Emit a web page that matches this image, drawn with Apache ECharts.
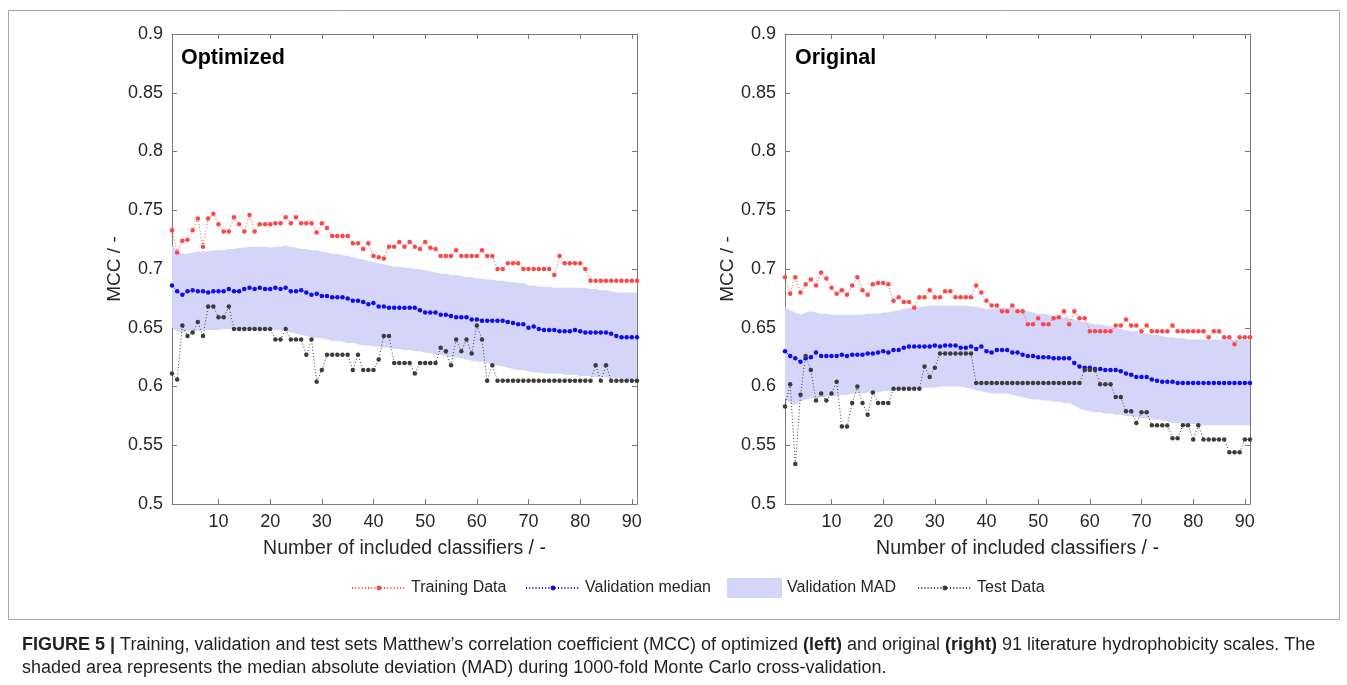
<!DOCTYPE html>
<html>
<head>
<meta charset="utf-8">
<title>MCC vs number of included classifiers</title>
<script src="https://cdn.jsdelivr.net/npm/echarts@6/dist/echarts.min.js"></script>
<style>
  html, body { margin: 0; padding: 0; background: #fff; }
  #chart { width: 1347px; height: 685px; }
</style>
</head>
<body>
<div id="chart"></div>
<script>
// x categories: number of included classifiers
const classifiers = [
  1, 2, 3, 4, 5, 6, 7, 8, 9, 10, 11, 12, 13, 14, 15, 16, 17, 18, 19, 20,
  21, 22, 23, 24, 25, 26, 27, 28, 29, 30, 31, 32, 33, 34, 35, 36, 37, 38, 39, 40,
  41, 42, 43, 44, 45, 46, 47, 48, 49, 50, 51, 52, 53, 54, 55, 56, 57, 58, 59, 60,
  61, 62, 63, 64, 65, 66, 67, 68, 69, 70, 71, 72, 73, 74, 75, 76, 77, 78, 79, 80,
  81, 82, 83, 84, 85, 86, 87, 88, 89, 90, 91
]
const xTickLabels = [10, 20, 30, 40, 50, 60, 70, 80, 90]

// Optimized scales (left panel)
const optTrain = [
  0.733, 0.714, 0.724, 0.725, 0.733, 0.743, 0.719, 0.743, 0.747, 0.738,
  0.732, 0.732, 0.744, 0.738, 0.732, 0.746, 0.732, 0.738, 0.738, 0.738,
  0.739, 0.739, 0.744, 0.739, 0.744, 0.739, 0.739, 0.739, 0.731, 0.739,
  0.735, 0.728, 0.728, 0.728, 0.728, 0.722, 0.722, 0.717, 0.722, 0.711,
  0.710, 0.709, 0.719, 0.719, 0.723, 0.719, 0.723, 0.719, 0.717, 0.723,
  0.718, 0.717, 0.711, 0.711, 0.711, 0.716, 0.711, 0.711, 0.711, 0.711,
  0.716, 0.711, 0.711, 0.700, 0.700, 0.705, 0.705, 0.705, 0.700, 0.700,
  0.700, 0.700, 0.700, 0.700, 0.695, 0.711, 0.705, 0.705, 0.705, 0.705,
  0.700, 0.690, 0.690, 0.690, 0.690, 0.690, 0.690, 0.690, 0.690, 0.690,
  0.690
]
const optMedian = [
  0.686, 0.681, 0.678, 0.681, 0.682, 0.681, 0.681, 0.680, 0.681, 0.681,
  0.681, 0.683, 0.681, 0.681, 0.683, 0.684, 0.683, 0.684, 0.683, 0.683,
  0.684, 0.683, 0.684, 0.681, 0.681, 0.682, 0.680, 0.678, 0.679, 0.677,
  0.677, 0.676, 0.676, 0.676, 0.675, 0.673, 0.673, 0.672, 0.670, 0.671,
  0.668, 0.668, 0.667, 0.667, 0.667, 0.667, 0.667, 0.667, 0.665, 0.663,
  0.663, 0.663, 0.661, 0.661, 0.660, 0.659, 0.659, 0.659, 0.657, 0.657,
  0.656, 0.656, 0.656, 0.656, 0.656, 0.655, 0.654, 0.653, 0.653, 0.650,
  0.651, 0.649, 0.648, 0.648, 0.648, 0.647, 0.647, 0.647, 0.648, 0.647,
  0.646, 0.646, 0.646, 0.646, 0.646, 0.645, 0.643, 0.642, 0.642, 0.642,
  0.642
]
const optMadUpper = [
  0.720, 0.716, 0.713, 0.713, 0.714, 0.715, 0.715, 0.715, 0.716, 0.716,
  0.716, 0.717, 0.717, 0.718, 0.718, 0.719, 0.719, 0.719, 0.719, 0.718,
  0.719, 0.719, 0.720, 0.719, 0.718, 0.717, 0.717, 0.716, 0.716, 0.715,
  0.714, 0.713, 0.713, 0.712, 0.711, 0.710, 0.709, 0.708, 0.707, 0.706,
  0.705, 0.704, 0.703, 0.702, 0.702, 0.701, 0.701, 0.700, 0.700, 0.699,
  0.698, 0.697, 0.696, 0.696, 0.695, 0.695, 0.694, 0.693, 0.693, 0.692,
  0.692, 0.691, 0.691, 0.690, 0.690, 0.689, 0.689, 0.688, 0.688, 0.686,
  0.686, 0.685, 0.685, 0.685, 0.684, 0.684, 0.684, 0.684, 0.684, 0.684,
  0.684, 0.683, 0.683, 0.682, 0.682, 0.681, 0.680, 0.680, 0.680, 0.680,
  0.680
]
const optMadLower = [
  0.650, 0.647, 0.646, 0.647, 0.647, 0.647, 0.648, 0.648, 0.648, 0.648,
  0.649, 0.649, 0.649, 0.649, 0.649, 0.649, 0.648, 0.648, 0.648, 0.648,
  0.648, 0.648, 0.647, 0.646, 0.645, 0.644, 0.643, 0.642, 0.641, 0.641,
  0.640, 0.639, 0.639, 0.638, 0.637, 0.637, 0.636, 0.635, 0.635, 0.634,
  0.634, 0.633, 0.633, 0.632, 0.632, 0.631, 0.631, 0.630, 0.630, 0.629,
  0.628, 0.627, 0.627, 0.626, 0.625, 0.625, 0.624, 0.623, 0.622, 0.621,
  0.621, 0.620, 0.619, 0.618, 0.617, 0.616, 0.615, 0.614, 0.614, 0.613,
  0.612, 0.612, 0.611, 0.611, 0.611, 0.611, 0.610, 0.610, 0.610, 0.609,
  0.609, 0.609, 0.608, 0.608, 0.608, 0.607, 0.607, 0.607, 0.606, 0.606,
  0.606
]
const optTest = [
  0.611, 0.606, 0.652, 0.643, 0.646, 0.655, 0.643, 0.668, 0.668, 0.659,
  0.659, 0.668, 0.649, 0.649, 0.649, 0.649, 0.649, 0.649, 0.649, 0.649,
  0.640, 0.640, 0.649, 0.640, 0.640, 0.640, 0.627, 0.640, 0.604, 0.614,
  0.627, 0.627, 0.627, 0.627, 0.627, 0.614, 0.627, 0.614, 0.614, 0.614,
  0.623, 0.643, 0.643, 0.620, 0.620, 0.620, 0.620, 0.611, 0.620, 0.620,
  0.620, 0.620, 0.633, 0.630, 0.618, 0.640, 0.630, 0.640, 0.628, 0.652,
  0.640, 0.605, 0.618, 0.605, 0.605, 0.605, 0.605, 0.605, 0.605, 0.605,
  0.605, 0.605, 0.605, 0.605, 0.605, 0.605, 0.605, 0.605, 0.605, 0.605,
  0.605, 0.605, 0.618, 0.605, 0.618, 0.605, 0.605, 0.605, 0.605, 0.605,
  0.605
]

// Original scales (right panel)
const origTrain = [
  0.693, 0.679, 0.693, 0.680, 0.687, 0.691, 0.686, 0.697, 0.692, 0.684,
  0.679, 0.682, 0.678, 0.686, 0.693, 0.682, 0.678, 0.687, 0.688, 0.688,
  0.687, 0.673, 0.676, 0.672, 0.672, 0.667, 0.676, 0.676, 0.682, 0.676,
  0.676, 0.681, 0.681, 0.676, 0.676, 0.676, 0.676, 0.686, 0.680, 0.673,
  0.669, 0.669, 0.664, 0.664, 0.669, 0.664, 0.664, 0.653, 0.653, 0.658,
  0.653, 0.653, 0.658, 0.659, 0.664, 0.653, 0.664, 0.658, 0.658, 0.647,
  0.647, 0.647, 0.647, 0.647, 0.652, 0.652, 0.657, 0.652, 0.652, 0.647,
  0.652, 0.647, 0.647, 0.647, 0.647, 0.652, 0.647, 0.647, 0.647, 0.647,
  0.647, 0.647, 0.642, 0.647, 0.647, 0.642, 0.642, 0.636, 0.642, 0.642,
  0.642
]
const origMedian = [
  0.630, 0.626, 0.624, 0.621, 0.624, 0.625, 0.629, 0.626, 0.626, 0.626,
  0.626, 0.627, 0.626, 0.627, 0.627, 0.627, 0.628, 0.628, 0.629, 0.630,
  0.629, 0.631, 0.631, 0.633, 0.634, 0.634, 0.634, 0.634, 0.634, 0.635,
  0.634, 0.635, 0.635, 0.635, 0.633, 0.633, 0.634, 0.632, 0.634, 0.630,
  0.629, 0.631, 0.631, 0.631, 0.629, 0.629, 0.627, 0.626, 0.626, 0.625,
  0.625, 0.625, 0.624, 0.624, 0.624, 0.624, 0.620, 0.617, 0.616, 0.616,
  0.615, 0.615, 0.614, 0.614, 0.614, 0.613, 0.611, 0.610, 0.608, 0.608,
  0.608, 0.606, 0.605, 0.604, 0.604, 0.604, 0.603, 0.603, 0.603, 0.603,
  0.603, 0.603, 0.603, 0.603, 0.603, 0.603, 0.603, 0.603, 0.603, 0.603,
  0.603
]
const origMadUpper = [
  0.668, 0.665, 0.663, 0.661, 0.663, 0.664, 0.663, 0.662, 0.662, 0.661,
  0.661, 0.661, 0.661, 0.661, 0.661, 0.661, 0.662, 0.662, 0.662, 0.663,
  0.663, 0.664, 0.665, 0.666, 0.667, 0.667, 0.668, 0.668, 0.669, 0.669,
  0.669, 0.669, 0.669, 0.669, 0.669, 0.669, 0.668, 0.668, 0.667, 0.666,
  0.666, 0.667, 0.667, 0.667, 0.667, 0.666, 0.665, 0.664, 0.663, 0.662,
  0.662, 0.661, 0.660, 0.659, 0.659, 0.658, 0.657, 0.656, 0.655, 0.654,
  0.653, 0.653, 0.652, 0.651, 0.650, 0.649, 0.648, 0.647, 0.647, 0.646,
  0.645, 0.644, 0.644, 0.643, 0.642, 0.642, 0.641, 0.641, 0.640, 0.640,
  0.640, 0.640, 0.640, 0.640, 0.640, 0.640, 0.640, 0.640, 0.640, 0.640,
  0.640
]
const origMadLower = [
  0.590, 0.586, 0.584, 0.587, 0.589, 0.590, 0.590, 0.591, 0.591, 0.592,
  0.592, 0.593, 0.593, 0.594, 0.594, 0.594, 0.595, 0.595, 0.595, 0.596,
  0.596, 0.596, 0.597, 0.597, 0.598, 0.598, 0.598, 0.599, 0.599, 0.599,
  0.600, 0.600, 0.600, 0.600, 0.600, 0.599, 0.598, 0.597, 0.596, 0.595,
  0.594, 0.594, 0.594, 0.594, 0.593, 0.592, 0.591, 0.590, 0.589, 0.589,
  0.588, 0.588, 0.587, 0.587, 0.586, 0.586, 0.584, 0.581, 0.580, 0.579,
  0.578, 0.578, 0.577, 0.577, 0.576, 0.576, 0.575, 0.575, 0.574, 0.573,
  0.573, 0.572, 0.572, 0.571, 0.570, 0.569, 0.569, 0.568, 0.568, 0.568,
  0.567, 0.567, 0.567, 0.567, 0.567, 0.567, 0.567, 0.567, 0.567, 0.567,
  0.567
]
const origTest = [
  0.583, 0.602, 0.534, 0.593, 0.626, 0.614, 0.588, 0.594, 0.588, 0.594,
  0.604, 0.566, 0.566, 0.586, 0.600, 0.586, 0.576, 0.595, 0.586, 0.586,
  0.586, 0.598, 0.598, 0.598, 0.598, 0.598, 0.598, 0.617, 0.608, 0.616,
  0.628, 0.628, 0.628, 0.628, 0.628, 0.628, 0.628, 0.603, 0.603, 0.603,
  0.603, 0.603, 0.603, 0.603, 0.603, 0.603, 0.603, 0.603, 0.603, 0.603,
  0.603, 0.603, 0.603, 0.603, 0.603, 0.603, 0.603, 0.603, 0.614, 0.614,
  0.614, 0.602, 0.602, 0.602, 0.591, 0.591, 0.579, 0.579, 0.569, 0.578,
  0.578, 0.567, 0.567, 0.567, 0.567, 0.556, 0.556, 0.567, 0.567, 0.555,
  0.567, 0.555, 0.555, 0.555, 0.555, 0.555, 0.544, 0.544, 0.544, 0.555,
  0.555
]

const FONT = '"Liberation Sans", Arial, Helvetica, sans-serif'
const AXIS = '#7a7a7a'
const TXT = '#262626'
const RED = '#ff4646'
const BLUE = '#0d0df2'
const GREY = '#3c3c3c'
const MAD = '#d5d5fa'
const CAPTION = '#231f20'

const isTick = (idx, val) => xTickLabels.includes(Number(val))

const xAxesFor = (gridIndex) => [
  {
    type: 'category', gridIndex, data: classifiers, boundaryGap: false, position: 'bottom',
    axisLine: { lineStyle: { color: AXIS } },
    axisTick: { inside: true, length: 5, interval: isTick, lineStyle: { color: AXIS } },
    axisLabel: { interval: isTick, color: TXT, fontSize: 18, margin: 9, fontFamily: FONT },
    name: 'Number of included classifiers / -', nameLocation: 'middle', nameGap: 35,
    nameTextStyle: { fontSize: 19.5, color: TXT, fontFamily: FONT }
  },
  {
    type: 'category', gridIndex, data: classifiers, boundaryGap: false, position: 'top',
    axisLine: { lineStyle: { color: AXIS } },
    axisTick: { inside: true, length: 5, interval: isTick, lineStyle: { color: AXIS } },
    axisLabel: { show: false }
  }
]

const yAxesFor = (gridIndex) => [
  {
    type: 'value', gridIndex, min: 0.5, max: 0.9, interval: 0.05, position: 'left',
    axisLine: { show: true, lineStyle: { color: AXIS } },
    axisTick: { show: true, inside: true, length: 5, lineStyle: { color: AXIS } },
    axisLabel: { color: TXT, fontSize: 18, margin: 9, fontFamily: FONT, formatter: (v) => String(+v.toFixed(2)) },
    splitLine: { show: false },
    name: 'MCC / -', nameLocation: 'middle', nameGap: 48,
    nameTextStyle: { fontSize: 19, color: TXT, fontFamily: FONT }
  },
  {
    type: 'value', gridIndex, min: 0.5, max: 0.9, interval: 0.05, position: 'right',
    axisLine: { show: true, lineStyle: { color: AXIS } },
    axisTick: { show: true, inside: true, length: 5, lineStyle: { color: AXIS } },
    axisLabel: { show: false },
    splitLine: { show: false }
  }
]

const dotted = (name, data, color, axisIndex) => ({
  name, type: 'line', data,
  xAxisIndex: axisIndex, yAxisIndex: axisIndex,
  symbol: 'circle', symbolSize: 4.5, showAllSymbol: true,
  lineStyle: { color, width: 1, type: [1, 2.2] },
  itemStyle: { color },
  z: 3
})

const band = (upper, lower, axisIndex, key) => [
  {
    name: 'mad-base-' + key, type: 'line', data: lower, stack: key,
    xAxisIndex: axisIndex, yAxisIndex: axisIndex,
    symbol: 'none', lineStyle: { opacity: 0 }, silent: true, z: 1
  },
  {
    name: 'Validation MAD', type: 'line', stack: key,
    data: upper.map((u, i) => +(u - lower[i]).toFixed(4)),
    xAxisIndex: axisIndex, yAxisIndex: axisIndex,
    symbol: 'none', lineStyle: { opacity: 0 },
    areaStyle: { color: MAD, opacity: 1 }, itemStyle: { color: MAD },
    silent: true, z: 1
  }
]

const legendText = { fontSize: 16, color: TXT, fontFamily: FONT }
const lineLegend = (name, left) => ({
  data: [name], left, top: 580, padding: 0, selectedMode: false,
  itemWidth: 54, itemHeight: 6, itemGap: 0, textStyle: legendText
})

const option = {
  animation: false,
  backgroundColor: '#fff',
  title: [
    { text: 'Optimized', left: 181, top: 47, padding: 0, textStyle: { fontSize: 21.5, fontWeight: 'bold', color: '#000', fontFamily: FONT } },
    { text: 'Original', left: 795, top: 47, padding: 0, textStyle: { fontSize: 21.5, fontWeight: 'bold', color: '#000', fontFamily: FONT } }
  ],
  grid: [
    { left: 172, top: 34, width: 465, height: 470, outerBoundsMode: 'none' },
    { left: 785, top: 34, width: 465, height: 470, outerBoundsMode: 'none' }
  ],
  xAxis: [...xAxesFor(0), ...xAxesFor(1)],
  yAxis: [...yAxesFor(0), ...yAxesFor(1)],
  legend: [
    lineLegend('Training Data', 351),
    lineLegend('Validation median', 525),
    {
      data: [{ name: 'Validation MAD', icon: 'rect', itemStyle: { color: MAD } }],
      left: 727, top: 578, padding: 0, selectedMode: false,
      itemWidth: 55, itemHeight: 20, textStyle: legendText
    },
    lineLegend('Test Data', 917)
  ],
  series: [
    ...band(optMadUpper, optMadLower, 0, 'opt'),
    dotted('Training Data', optTrain, RED, 0),
    dotted('Validation median', optMedian, BLUE, 0),
    dotted('Test Data', optTest, GREY, 0),
    ...band(origMadUpper, origMadLower, 2, 'orig'),
    dotted('Training Data', origTrain, RED, 2),
    dotted('Validation median', origMedian, BLUE, 2),
    dotted('Test Data', origTest, GREY, 2)
  ],
  graphic: [
    { type: 'rect', silent: true, shape: { x: 8.5, y: 10.5, width: 1331, height: 609 }, style: { fill: 'none', stroke: '#a8a8a8', lineWidth: 1 } },
    {
      type: 'text', x: 22, y: 645, silent: true,
      style: {
        text: '{b|FIGURE 5 |} Training, validation and test sets Matthew\u2019s correlation coefficient (MCC) of optimized {b|(left)} and original {b|(right)} 91 literature hydrophobicity scales. The',
        fill: CAPTION, fontSize: 18, fontFamily: FONT, verticalAlign: 'middle',
        rich: { b: { fontWeight: 'bold', fontSize: 18, fontFamily: FONT, fill: CAPTION } }
      }
    },
    {
      type: 'text', x: 22, y: 668, silent: true,
      style: {
        text: 'shaded area represents the median absolute deviation (MAD) during 1000-fold Monte Carlo cross-validation.',
        fill: CAPTION, fontSize: 18, fontFamily: FONT, verticalAlign: 'middle'
      }
    }
  ]
}

const chart = echarts.init(document.getElementById('chart'))
chart.setOption(option)
window.addEventListener('resize', () => chart.resize())
</script>
</body>
</html>
